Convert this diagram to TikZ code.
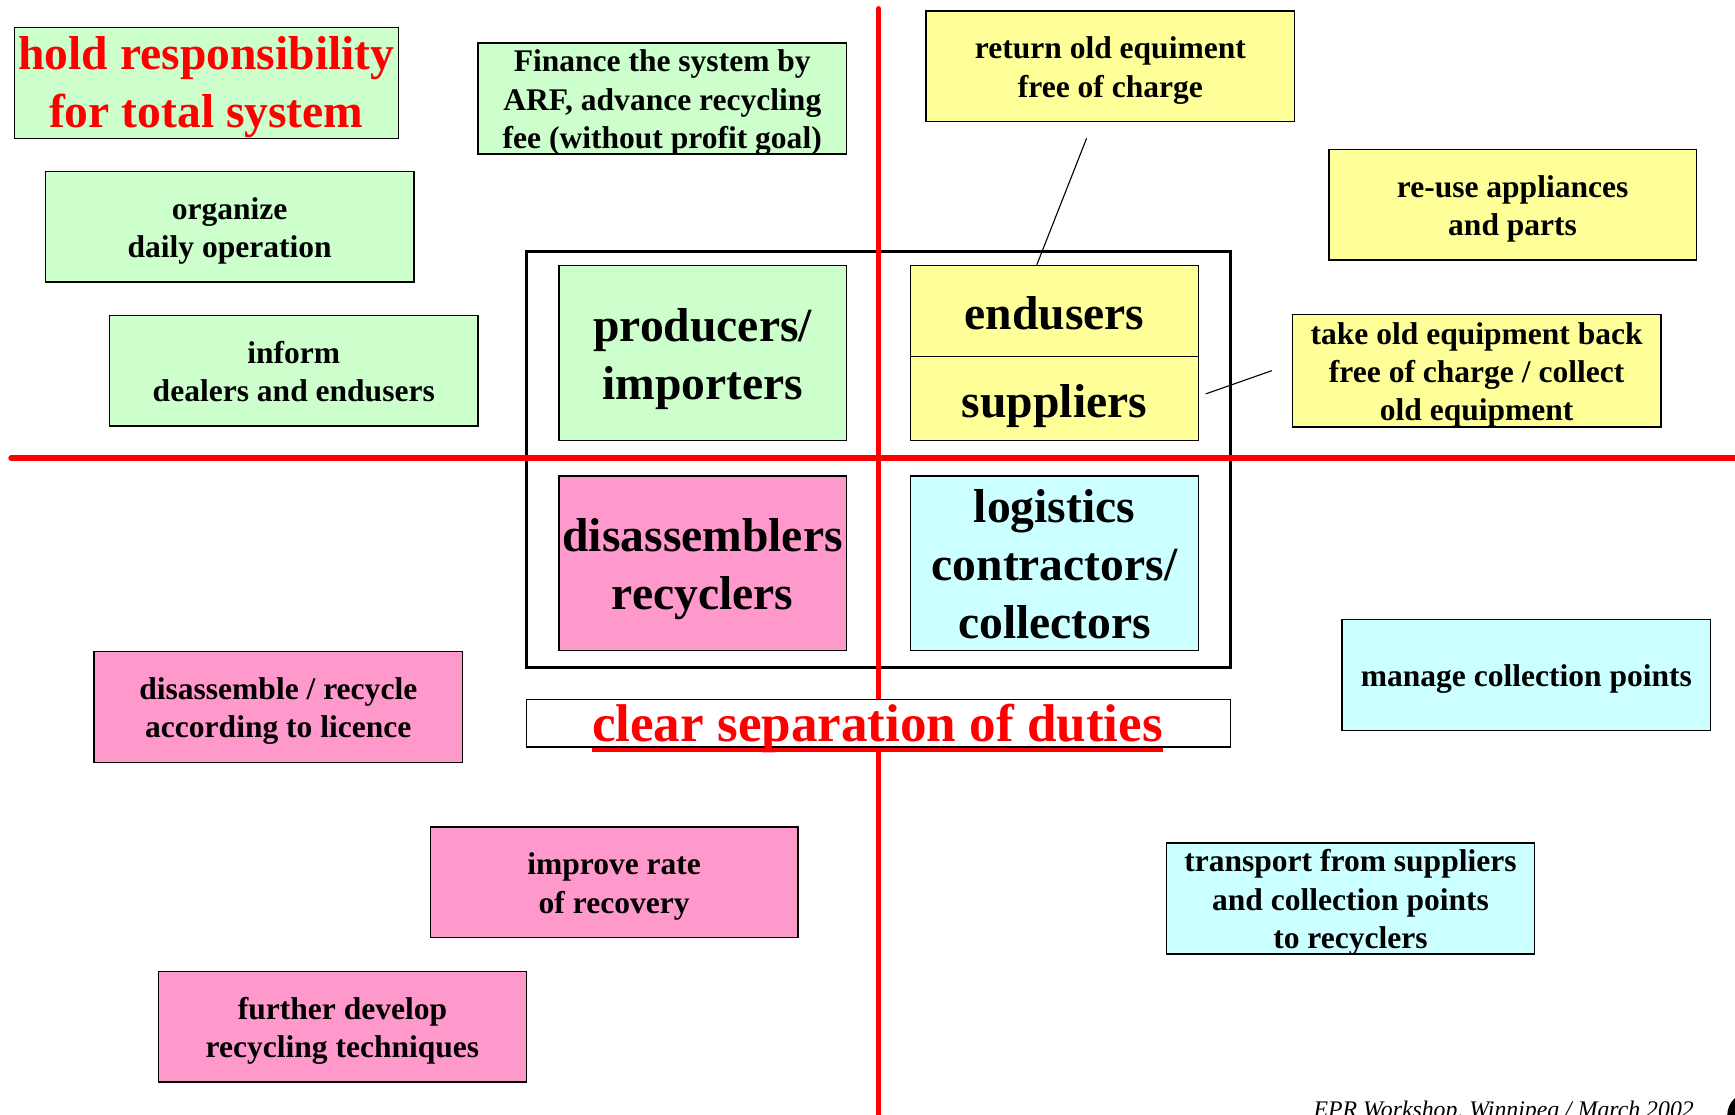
\documentclass[tikz,border=0pt]{standalone}
\usepackage{fontspec}
\setmainfont{Liberation Serif}
\usepackage{tikz}
\usepackage{xcolor}

\definecolor{lgreen}{HTML}{CCFFCC}
\definecolor{lyellow}{HTML}{FFFF99}
\definecolor{lpink}{HTML}{FF99CC}
\definecolor{lcyan}{HTML}{CCFFFF}

\tikzset{
	duty/.style={draw, line width=1.3pt, inner sep=0pt, align=center,
		minimum width=333pt, minimum height=100pt,
		text height=55.5pt, text depth=0pt,
		font=\fontsize{28.5}{34.5}\selectfont\bfseries},
	gduty/.style={duty, fill=lgreen},
	yduty/.style={duty, fill=lyellow},
	pduty/.style={duty, fill=lpink},
	cduty/.style={duty, fill=lcyan},
	actor/.style={draw, line width=1.3pt, inner sep=0pt, align=center,
		minimum width=260pt, minimum height=158pt,
		text height=83.5pt, text depth=0pt,
		font=\fontsize{43}{52.5}\selectfont\bfseries},
	axis/.style={red, line width=5pt, line cap=round}
}

\begin{document}
\begin{tikzpicture}[x=1pt, y=-1pt]
				\useasboundingbox (0,0) rectangle (1568,1007);
				
				% frame round the four actors
				\node[draw, line width=3pt, minimum width=636pt, minimum height=376pt] (frame) at (794,415) {};
				
				\draw[axis] (794,8) -- (794,1030);
				\draw[axis] (10,414) -- (1590,414);
				
				\node[actor, fill=lgreen] (prod) at (635,319) {producers/\\importers};
				\node[actor, fill=lyellow, minimum height=82pt, text height=33pt] (endu) at (953,281) {endusers};
				\node[actor, fill=lyellow, minimum height=76pt, text height=35pt] (supp) at (953,360) {suppliers};
				\node[actor, fill=lpink] (disa) at (635,509) {disassemblers\\recyclers};
				\node[actor, fill=lcyan, text height=136pt] (logi) at (953,509) {logistics\\contractors/\\collectors};
				
				\node[draw, fill=white, line width=1.3pt, minimum width=636pt, minimum height=43pt] (clear) at (794,653.5) {};
				\node[text=red, font=\fontsize{48}{56}\selectfont\bfseries, anchor=base, inner sep=0pt] (cleartxt) at (793,670) {clear separation of duties};
				\draw[red, line width=4pt] (cleartxt.base west) ++(0,8) coordinate (ul) -- (ul -| cleartxt.base east);
				
				% producers
				\node[gduty, minimum width=347pt, text=red, text height=80pt,
					font=\fontsize{43}{52.5}\selectfont\bfseries] (hold) at (186.5,75) {hold responsibility\\for total system};
				\node[gduty, text height=90pt] (fin) at (598.5,89) {Finance the system by\\ARF, advance recycling\\fee (without profit goal)};
				\node[gduty] (org) at (207.5,205) {organize\\daily operation};
				\node[gduty] (inf) at (265.5,335) {inform\\dealers and endusers};
				
				% endusers and suppliers
				\node[yduty] (ret) at (1003.5,60) {return old equiment\\free of charge};
				\node[yduty, minimum width=332pt] (reuse) at (1367,185) {re-use appliances\\and parts};
				\node[yduty, minimum height=102pt, text height=90pt] (take) at (1334.5,335) {take old equipment back\\free of charge / collect\\old equipment};
				
				% recyclers
				\node[pduty] (disr) at (251.5,639) {disassemble / recycle\\according to licence};
				\node[pduty, minimum width=332pt] (impr) at (555,797.5) {improve rate\\of recovery};
				\node[pduty] (furth) at (309.5,928) {further develop\\recycling techniques};
				
				% logistics
				\node[cduty, text height=21pt] (mng) at (1379.5,610) {manage collection points};
				\node[cduty, text height=90pt] (trans) at (1220.5,812) {transport from suppliers\\and collection points\\to recyclers};
				
				\coordinate (retfoot) at (982,125);
				\coordinate (takefoot) at ([xshift=-18pt]take.west);
				\draw[line width=1pt] (retfoot) -- ([xshift=-16pt]endu.north);
				\draw[line width=1pt] (takefoot) -- ([xshift=6pt, yshift=4pt]supp.east);
				
				\node[anchor=base west, inner sep=0pt, font=\fontsize{21.5}{26}\selectfont\itshape] (foot) at (1187,1010) {EPR Workshop, Winnipeg / March 2002};
				\fill (1582,1008) circle (21);
\end{tikzpicture}
\end{document}
